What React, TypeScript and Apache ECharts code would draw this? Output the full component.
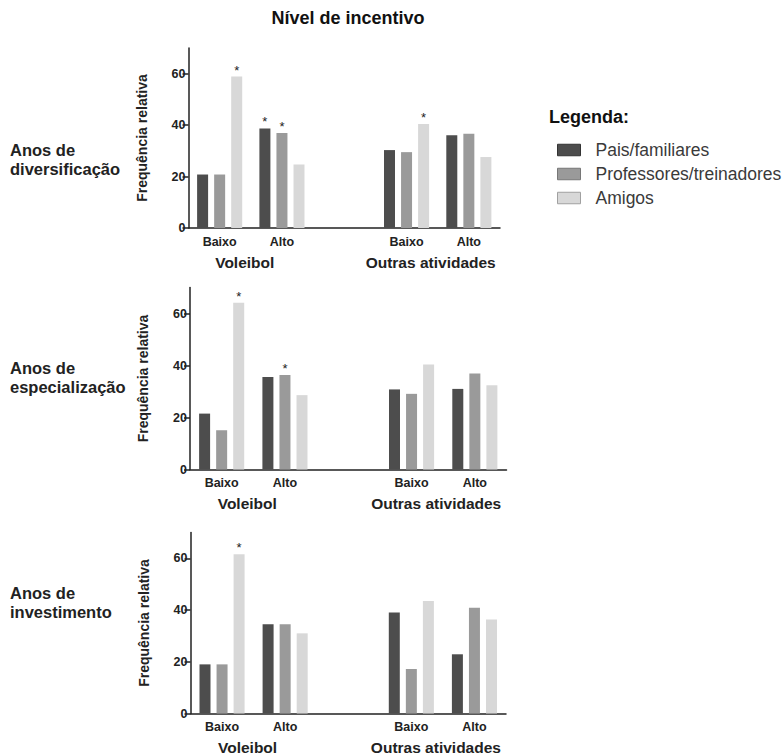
import React, { useEffect, useRef } from "react";
import * as echarts from "echarts";

const categories = ["Baixo", "Alto", "", "Baixo", "Alto"];
const groupLabels = ["Voleibol", "Outras atividades"];
const seriesNames = ["Pais/familiares", "Professores/treinadores", "Amigos"];
const rowLabels = ["Anos de\ndiversificação", "Anos de\nespecialização", "Anos de\ninvestimento"];
const yTicks = [0, 20, 40, 60];

// Panel 1: Anos de diversificação
const pais1 = [20.8, 38.7, null, 30.3, 36.1];
const prof1 = [20.8, 36.9, null, 29.5, 36.7];
const amig1 = [58.9, 24.7, null, 40.4, 27.6];
// Panel 2: Anos de especialização
const pais2 = [21.5, 35.6, null, 30.8, 31.0];
const prof2 = [15.1, 36.3, null, 29.1, 36.9];
const amig2 = [64.1, 28.6, null, 40.4, 32.4];
// Panel 3: Anos de investimento
const pais3 = [19.0, 34.5, null, 39.1, 22.9];
const prof3 = [19.0, 34.5, null, 17.2, 40.9];
const amig3 = [61.6, 31.0, null, 43.5, 36.4];

// significance markers (*)
const sigPais1 = [0, 1, 0, 0, 0];
const sigProf1 = [0, 1, 0, 0, 0];
const sigAmig1 = [1, 0, 0, 1, 0];
const sigPais2 = [0, 0, 0, 0, 0];
const sigProf2 = [0, 1, 0, 0, 0];
const sigAmig2 = [1, 0, 0, 0, 0];
const sigPais3 = [0, 0, 0, 0, 0];
const sigProf3 = [0, 0, 0, 0, 0];
const sigAmig3 = [1, 0, 0, 0, 0];

const colors = ["#4d4d4d", "#9a9a9a", "#d8d8d8"];
const legendBorders = ["#333333", "#777777", "#a0a0a0"];
const FONT = "'Liberation Sans', Arial, sans-serif";

const panels = [
  { data: [pais1, prof1, amig1], sig: [sigPais1, sigProf1, sigAmig1], grid: { left: 188.5, top: 48, width: 311.5, height: 180 }, rowY: 159.5 },
  { data: [pais2, prof2, amig2], sig: [sigPais2, sigProf2, sigAmig2], grid: { left: 190, top: 287.5, width: 316.5, height: 182 }, rowY: 377.8 },
  { data: [pais3, prof3, amig3], sig: [sigPais3, sigProf3, sigAmig3], grid: { left: 190.5, top: 532.5, width: 315.5, height: 181 }, rowY: 602.8 },
];

export default function App() {
  const ref = useRef<HTMLDivElement>(null);
  useEffect(() => {
    document.body.style.margin = "0";
    if (!ref.current) return;
    const chart = echarts.init(ref.current, null, { renderer: "svg" });

    const grids: any[] = [];
    const xAxes: any[] = [];
    const yAxes: any[] = [];
    const series: any[] = [];
    const graphics: any[] = [];

    panels.forEach((p, pi) => {
      grids.push({ ...p.grid, containLabel: false });
      xAxes.push({
        type: "category",
        gridIndex: pi,
        data: categories,
        axisLine: { show: true, lineStyle: { color: "#222", width: 1.5 } },
        axisTick: { show: false },
        axisLabel: { color: "#222", fontFamily: FONT, fontWeight: "bold", fontSize: 12.5, margin: 7, interval: 0 },
        splitLine: { show: false },
      });
      yAxes.push({
        type: "value",
        gridIndex: pi,
        min: 0,
        max: 70,
        interval: 20,
        name: "Frequência relativa",
        nameLocation: "middle",
        nameGap: 40,
        nameTextStyle: { color: "#222", fontFamily: FONT, fontWeight: "bold", fontSize: 14 },
        axisLine: { show: true, lineStyle: { color: "#222", width: 1.5 } },
        axisTick: { show: true, length: 6, customValues: yTicks, lineStyle: { color: "#222", width: 1.5 } },
        axisLabel: { color: "#222", fontFamily: FONT, fontWeight: "bold", fontSize: 12.5, margin: 3, customValues: yTicks },
        splitLine: { show: false },
      });
      p.data.forEach((vals, si) => {
        series.push({
          type: "bar",
          name: seriesNames[si],
          xAxisIndex: pi,
          yAxisIndex: pi,
          barWidth: 11,
          barGap: "55%",
          itemStyle: { color: colors[si] },
          data: vals.map((v, i) =>
            p.sig[si][i]
              ? { value: v, label: { show: true, position: "top", distance: 0, formatter: "*", color: "#222", fontSize: 13, fontFamily: FONT } }
              : v
          ),
        });
      });
      const g = p.grid;
      const baseY = g.top + g.height;
      graphics.push({
        type: "text",
        style: { text: groupLabels[0], x: g.left + g.width * 0.2 - 6, y: baseY + 34, align: "center", verticalAlign: "middle", fill: "#222", font: `bold 15.5px ${FONT}` },
      });
      graphics.push({
        type: "text",
        style: { text: groupLabels[1], x: g.left + g.width * 0.8 - 7, y: baseY + 34, align: "center", verticalAlign: "middle", fill: "#222", font: `bold 15.5px ${FONT}` },
      });
      graphics.push({
        type: "text",
        style: { text: rowLabels[pi], x: 10, y: p.rowY, align: "left", verticalAlign: "middle", fill: "#222", font: `bold 16.5px ${FONT}`, lineHeight: 19 },
      });
    });

    graphics.push({
      type: "text",
      style: { text: "Nível de incentivo", x: 348, y: 18, align: "center", verticalAlign: "middle", fill: "#111", font: `bold 18px ${FONT}` },
    });
    graphics.push({
      type: "text",
      style: { text: "Legenda:", x: 549, y: 117, align: "left", verticalAlign: "middle", fill: "#111", font: `bold 18px ${FONT}` },
    });

    chart.setOption({
      animation: false,
      backgroundColor: "#ffffff",
      grid: grids,
      xAxis: xAxes,
      yAxis: yAxes,
      legend: {
        orient: "vertical",
        left: 552,
        top: 136,
        itemWidth: 23,
        itemHeight: 11.5,
        itemGap: 6,
        icon: "rect",
        selectedMode: false,
        textStyle: { color: "#3a3a3a", fontFamily: FONT, fontSize: 17.5, lineHeight: 18, padding: [0, 0, 0, 10] },
        data: seriesNames.map((n, i) => ({ name: n, itemStyle: { color: colors[i], borderColor: legendBorders[i], borderWidth: 1 } })),
      },
      graphic: graphics,
      series,
    });
    return () => chart.dispose();
  }, []);
  return <div ref={ref} style={{ width: 783, height: 756 }} />;
}
